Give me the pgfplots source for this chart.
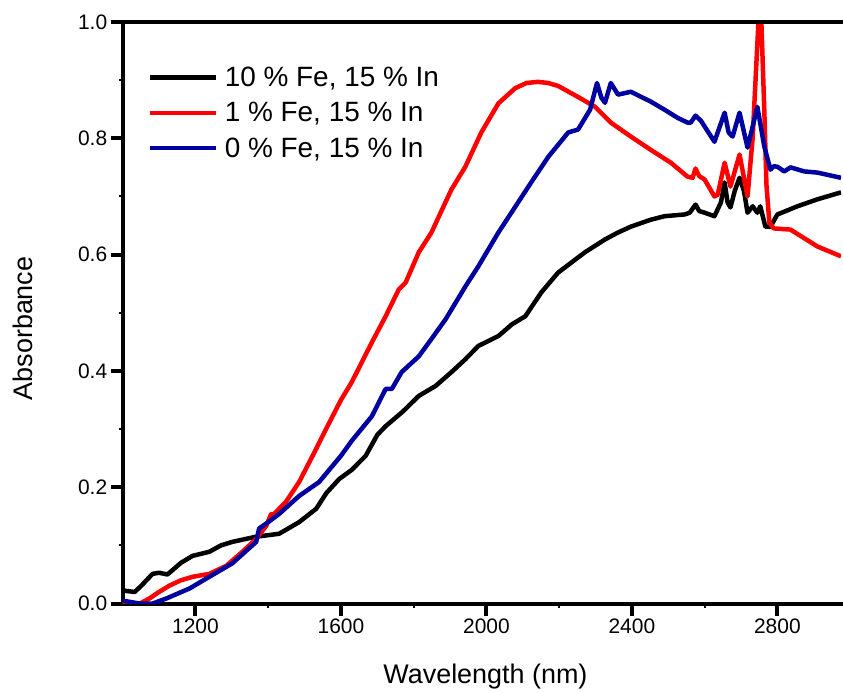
\documentclass[border=0pt]{standalone}
\usepackage{fontspec}
\setmainfont{Liberation Sans}
\usepackage{pgfplots}
\pgfplotsset{compat=1.18}

\definecolor{fered}{RGB}{255,0,0}
\definecolor{feblue}{RGB}{0,0,160}

\begin{document}
\begin{tikzpicture}
\begin{axis}[
  scale only axis,
  width=720pt, height=583pt,
  xmin=1000, xmax=2975,
  ymin=0, ymax=1,
  axis lines=left,
  axis line style={-, line width=4pt, line cap=rect},
  xtick={1200,1600,2000,2400,2800},
  ytick={0,0.2,0.4,0.6,0.8,1.0},
  minor x tick num=1,
  minor y tick num=1,
  tick align=outside,
  major tick length=12pt,
  minor tick length=4pt,
  major tick style={line width=4pt, black},
  minor tick style={line width=2pt, black},
  /pgf/number format/assume math mode=true,
  xticklabel style={font=\fontsize{21}{25}\selectfont,
    /pgf/number format/set thousands separator={}},
  yticklabel style={font=\fontsize{21}{25}\selectfont,
    /pgf/number format/.cd, fixed, fixed zerofill, precision=1},
  xlabel={Wavelength (nm)},
  ylabel={Absorbance},
  label style={font=\fontsize{27}{32}\selectfont},
  xlabel style={at={(axis description cs:0.505,0)}, anchor=base, yshift=-80pt},
  ylabel style={at={(axis description cs:-0.139,0.473)}, anchor=center},
  legend cell align=left,
  legend style={at={(axis description cs:0.03,0.93)}, anchor=north west,
    draw=none, fill=none, font=\fontsize{28}{34}\selectfont,
    row sep=10.5pt, column sep=5pt},
  legend image code/.code={\draw[#1, line width=4.5pt] (0pt,0pt) -- (66pt,0pt);},
  every axis plot/.append style={line width=4.5pt, line join=round},
  after end axis/.code={
    \draw[line width=4pt, line cap=rect] (rel axis cs:0,1) -- (rel axis cs:1,1);
    \path ([xshift=-123pt,yshift=-86pt]rel axis cs:0,0) rectangle ([yshift=22pt]rel axis cs:1,1);
  },
]
% 10 % Fe, 15 % In
\addplot[black] coordinates {
(1000,0.025) (1005,0.022) (1033,0.020) (1050,0.030) (1082,0.051) (1100,0.053)
(1123,0.050) (1160,0.070) (1192,0.082) (1238,0.089) (1270,0.100) (1301,0.106)
(1367,0.115) (1430,0.120) (1485,0.140) (1532,0.163) (1560,0.190) (1595,0.214)
(1630,0.230) (1668,0.254) (1700,0.290) (1723,0.305) (1770,0.330) (1814,0.357)
(1860,0.374) (1904,0.398) (1942,0.420) (1978,0.443) (2033,0.460) (2070,0.480)
(2107,0.494) (2151,0.535) (2197,0.569) (2271,0.604) (2326,0.626) (2362,0.638)
(2397,0.648) (2452,0.660) (2490,0.666) (2545,0.669) (2559,0.672) (2575,0.686)
(2585,0.675) (2600,0.672) (2627,0.666) (2645,0.690) (2655,0.724) (2663,0.690)
(2671,0.681) (2683,0.710) (2696,0.732) (2708,0.710) (2718,0.672) (2732,0.683)
(2745,0.672) (2753,0.683) (2767,0.648) (2781,0.648) (2800,0.669) (2855,0.683)
(2910,0.695) (2975,0.707)
};
\addlegendentry{10 \% Fe, 15 \% In}
% 1 % Fe, 15 % In
\addplot[fered] coordinates {
(1000,0.000) (1047,0.000) (1074,0.009) (1100,0.020) (1129,0.031) (1160,0.040)
(1192,0.046) (1238,0.051) (1285,0.065) (1329,0.089) (1367,0.111) (1395,0.134)
(1408,0.154) (1416,0.154) (1449,0.175) (1485,0.209) (1532,0.266) (1559,0.300)
(1600,0.350) (1630,0.381) (1685,0.449) (1723,0.494) (1759,0.540) (1778,0.552)
(1814,0.604) (1849,0.638) (1880,0.680) (1904,0.712) (1942,0.751) (1986,0.810)
(2033,0.860) (2079,0.886) (2110,0.895) (2142,0.897) (2170,0.895) (2197,0.890)
(2252,0.871) (2299,0.854) (2342,0.827) (2397,0.803) (2452,0.780) (2507,0.758)
(2553,0.734) (2567,0.732) (2575,0.748) (2585,0.735) (2600,0.729) (2627,0.700)
(2636,0.703) (2655,0.758) (2671,0.717) (2696,0.772) (2718,0.700) (2732,0.800)
(2740,0.900) (2748,1.000) (2756,1.000) (2764,0.850) (2770,0.720) (2778,0.655)
(2790,0.645) (2836,0.643) (2910,0.614) (2975,0.597)
};
\addlegendentry{1 \% Fe, 15 \% In}
% 0 % Fe, 15 % In
\addplot[feblue] coordinates {
(1000,0.005) (1047,0.000) (1082,0.000) (1121,0.009) (1184,0.026) (1238,0.046)
(1301,0.069) (1367,0.106) (1375,0.129) (1400,0.140) (1430,0.154) (1485,0.185)
(1540,0.209) (1600,0.254) (1630,0.280) (1685,0.322) (1723,0.369) (1740,0.369)
(1767,0.398) (1814,0.425) (1849,0.455) (1888,0.489) (1942,0.545) (1978,0.580)
(2033,0.638) (2123,0.724) (2170,0.768) (2225,0.810) (2252,0.815) (2285,0.849)
(2304,0.895) (2316,0.870) (2326,0.861) (2342,0.895) (2362,0.875) (2397,0.880)
(2452,0.863) (2490,0.849) (2526,0.835) (2553,0.827) (2562,0.827) (2575,0.839)
(2590,0.830) (2627,0.794) (2655,0.844) (2666,0.810) (2677,0.803) (2696,0.844)
(2718,0.784) (2732,0.820) (2745,0.854) (2764,0.786) (2781,0.746) (2790,0.752)
(2800,0.751) (2819,0.743) (2836,0.750) (2874,0.743) (2910,0.741) (2975,0.732)
};
\addlegendentry{0 \% Fe, 15 \% In}
\end{axis}
\end{tikzpicture}
\end{document}
